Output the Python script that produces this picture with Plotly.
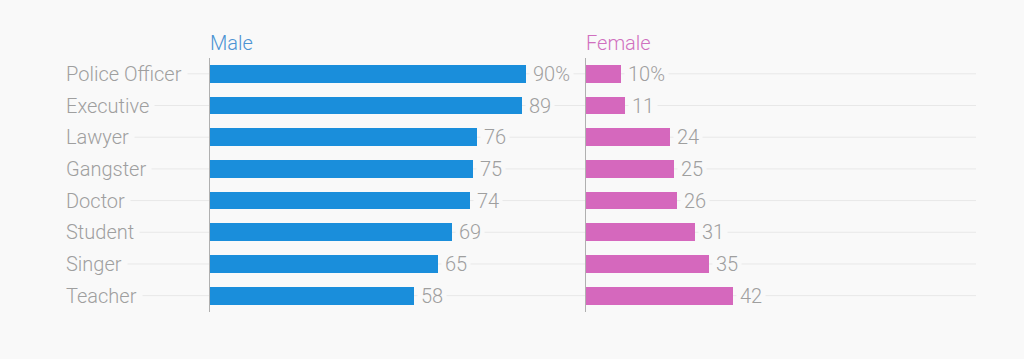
import plotly.graph_objects as go

categories = ["Police Officer", "Executive", "Lawyer", "Gangster", "Doctor", "Student", "Singer", "Teacher"]
male = [90, 89, 76, 75, 74, 69, 65, 58]
female = [10, 11, 24, 25, 26, 31, 35, 42]
male_labels = ["90%", "89", "76", "75", "74", "69", "65", "58"]
female_labels = ["10%", "11", "24", "25", "26", "31", "35", "42"]

W, H = 1024, 359
BG = "#f9f9f9"
GRID = "#e8e8e8"
TXT = "#9f9f9f"
MALE_C = "#1a8edb"
FEMALE_C = "#d568bd"
FONT = "Roboto"
FS = 20
FW = 300

def px(x):
    return x / W

y_dom = [1 - 311.5 / H, 1 - 58 / H]
n = len(categories)
idx = list(range(n))

fig = go.Figure()
fig.add_trace(go.Bar(y=idx, x=male, orientation="h", marker=dict(color=MALE_C, line=dict(width=0)),
                     width=0.56, xaxis="x", yaxis="y", hoverinfo="skip", showlegend=False))
fig.add_trace(go.Bar(y=idx, x=female, orientation="h", marker=dict(color=FEMALE_C, line=dict(width=0)),
                     width=0.56, xaxis="x2", yaxis="y2", hoverinfo="skip", showlegend=False))

font = dict(family=FONT, size=FS, color=TXT, weight=FW)
shapes = []
annotations = []
for i, cat in enumerate(categories):
    shapes.append(dict(type="line", xref="paper", yref="y", x0=px(66), x1=px(976), y0=i, y1=i,
                       line=dict(color=GRID, width=1), layer="below"))
    annotations.append(dict(text=cat, xref="paper", yref="y", x=px(60), y=i, xanchor="left", yanchor="middle",
                            showarrow=False, font=font, bgcolor=BG, borderpad=5))
    annotations.append(dict(text=male_labels[i], xref="x", yref="y", x=male[i], y=i, xanchor="left", yanchor="middle",
                            xshift=3, showarrow=False, font=font, bgcolor=BG, borderpad=3))
    annotations.append(dict(text=female_labels[i], xref="x2", yref="y2", x=female[i], y=i, xanchor="left", yanchor="middle",
                            xshift=3, showarrow=False, font=font, bgcolor=BG, borderpad=3))

annotations.append(dict(text="Male", xref="paper", yref="paper", x=px(208), y=1 - 43 / H, xanchor="left", yanchor="middle",
                        showarrow=False, font=dict(family=FONT, size=FS, color="#4b93d3", weight=FW)))
annotations.append(dict(text="Female", xref="paper", yref="paper", x=px(584), y=1 - 43 / H, xanchor="left", yanchor="middle",
                        showarrow=False, font=dict(family=FONT, size=FS, color="#d070bf", weight=FW)))

ymin, ymax = n - 0.5, -0.5
fig.update_layout(
    width=W, height=H,
    margin=dict(l=0, r=0, t=0, b=0),
    paper_bgcolor=BG, plot_bgcolor="rgba(0,0,0,0)",
    xaxis=dict(domain=[px(210), px(585)], range=[0, 375 / 3.51], visible=False, anchor="y"),
    xaxis2=dict(domain=[px(586), px(976)], range=[0, 390 / 3.5], visible=False, anchor="y2"),
    yaxis=dict(domain=y_dom, range=[ymin, ymax], showgrid=False, zeroline=False, showticklabels=False,
               ticks="", showline=True, linecolor="#b0b0b0", linewidth=1, anchor="x"),
    yaxis2=dict(domain=y_dom, range=[ymin, ymax], showgrid=False, zeroline=False, showticklabels=False,
                ticks="", showline=True, linecolor="#b0b0b0", linewidth=1, anchor="x2"),
    shapes=shapes, annotations=annotations, bargap=0,
)

fig.write_html("out.html", config={"displayModeBar": False},
               post_script="document.body.style.margin='0';document.body.style.background='" + BG + "';")
